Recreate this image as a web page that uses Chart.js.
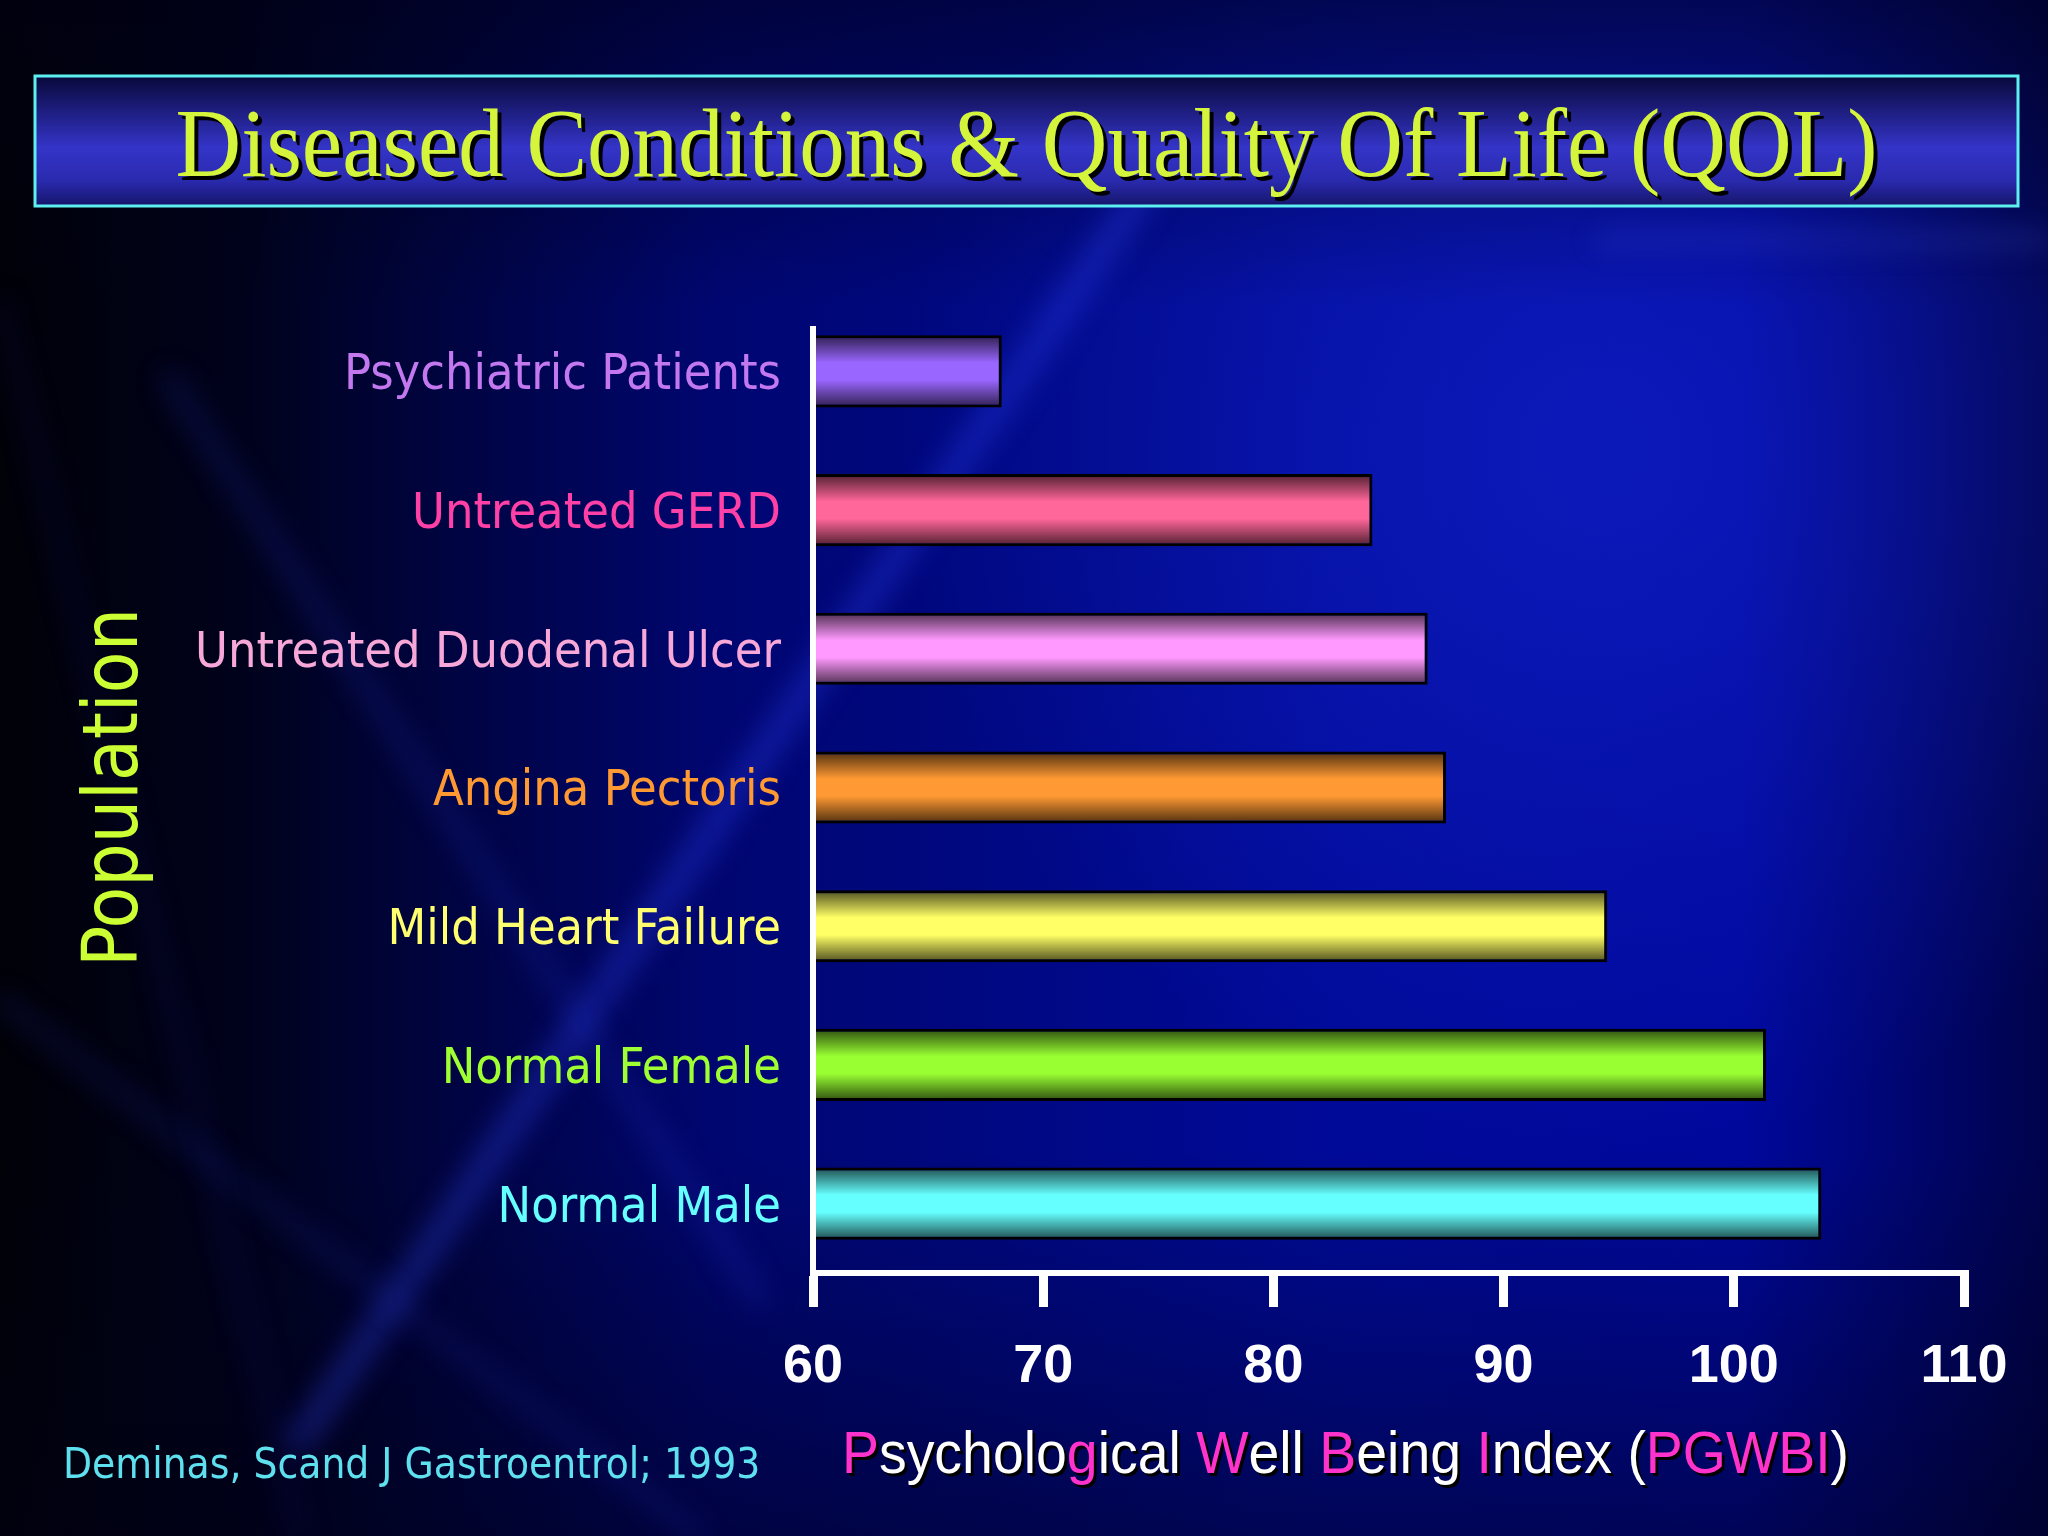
<!DOCTYPE html>
<html>
<head>
<meta charset="utf-8">
<title>Diseased Conditions &amp; Quality Of Life (QOL)</title>
<script src="https://cdn.jsdelivr.net/npm/chart.js@4.4.0/dist/chart.umd.min.js"></script>
<style>
  html, body { margin: 0; padding: 0; background: #000030; overflow: hidden; }
  #wrap { width: 2048px; height: 1536px; }
</style>
</head>
<body>
<div id="wrap"><canvas id="qol" width="2048" height="1536"></canvas></div>
<script>
// data
const populations = ['Psychiatric Patients', 'Untreated GERD', 'Untreated Duodenal Ulcer', 'Angina Pectoris', 'Mild Heart Failure', 'Normal Female', 'Normal Male'];
const pgwbiScores = [68.2, 84.3, 86.7, 87.5, 94.5, 101.4, 103.8];
const xTickValues = [60, 70, 80, 90, 100, 110];
const chartTitle = 'Diseased Conditions & Quality Of Life (QOL)';
const yAxisTitle = 'Population';
// x title, pieces flagged true are pink
const xTitleRuns = [['P', true], ['sycholo', false], ['g', true], ['ical ', false], ['W', true], ['ell ', false], ['B', true], ['eing ', false], ['I', true], ['ndex (', false], ['PGWBI', true], [')', false]];
const sourceNote = 'Deminas, Scand J Gastroentrol; 1993';

// styles
const barColors = ['#9966ff', '#ff6699', '#ff99ff', '#ff9933', '#ffff66', '#99ff33', '#66ffff'];
const labelColors = ['#c478f0', '#ff40a6', '#f8a8d8', '#ff9a33', '#ffff70', '#a0ff33', '#66ffff'];
const BAR_PCT = 0.52;
const sansCond = '"DejaVu Sans Condensed", "DejaVu Sans", sans-serif';
const narrow = '"Liberation Sans Narrow", "Arial Narrow", "Liberation Sans", sans-serif';

function shade(hex, f) {
  const n = parseInt(hex.slice(1), 16);
  const r = Math.round(((n >> 16) & 255) * f);
  const g = Math.round(((n >> 8) & 255) * f);
  const b = Math.round((n & 255) * f);
  return `rgb(${r},${g},${b})`;
}

// cylinder look: dark edges, bright middle
function barFill(c) {
  const chart = c.chart;
  const base = barColors[c.dataIndex];
  const y = chart.scales.y;
  if (!y || !chart.chartArea) return base;
  const mid = y.getPixelForValue(c.dataIndex);
  const half = (y.height / populations.length) * BAR_PCT / 2;
  const g = chart.ctx.createLinearGradient(0, mid - half, 0, mid + half);
  g.addColorStop(0, shade(base, 0.3));
  g.addColorStop(0.38, base);
  g.addColorStop(0.62, base);
  g.addColorStop(1, shade(base, 0.3));
  return g;
}

const backdrop = {
  id: 'backdrop',
  beforeDraw(chart) {
    const {ctx, width, height} = chart;
    ctx.save();
    let g = ctx.createLinearGradient(0, 0, width, 0);
    g.addColorStop(0, '#010108');
    g.addColorStop(0.12, '#00021c');
    g.addColorStop(0.35, '#000670');
    g.addColorStop(0.65, '#000a98');
    g.addColorStop(0.85, '#00089c');
    g.addColorStop(1, '#00034a');
    ctx.fillStyle = g;
    ctx.fillRect(0, 0, width, height);

    let r = ctx.createRadialGradient(1600, 450, 40, 1600, 450, 700);
    r.addColorStop(0, 'rgba(30,50,230,0.4)');
    r.addColorStop(1, 'rgba(30,50,230,0)');
    ctx.fillStyle = r;
    ctx.fillRect(0, 0, width, height);

    let v = ctx.createLinearGradient(0, 0, 0, height);
    v.addColorStop(0, 'rgba(0,0,20,0.55)');
    v.addColorStop(0.2, 'rgba(0,0,20,0)');
    v.addColorStop(0.75, 'rgba(0,0,20,0)');
    v.addColorStop(1, 'rgba(0,0,20,0.5)');
    ctx.fillStyle = v;
    ctx.fillRect(0, 0, width, height);

    // soft light streaks
    ctx.filter = 'blur(14px)';
    ctx.lineCap = 'round';
    const streaks = [
      [300, 1440, 1150, 180, 26, 'rgba(50,70,255,0.35)'],
      [170, 380, 760, 1300, 18, 'rgba(40,60,220,0.22)'],
      [0, 1000, 700, 1536, 14, 'rgba(40,60,220,0.2)'],
      [1600, 240, 2048, 240, 10, 'rgba(90,110,255,0.3)'],
      [0, 300, 300, 1536, 10, 'rgba(30,40,180,0.2)']
    ];
    streaks.forEach(s => {
      ctx.strokeStyle = s[5];
      ctx.lineWidth = s[4];
      ctx.beginPath();
      ctx.moveTo(s[0], s[1]);
      ctx.lineTo(s[2], s[3]);
      ctx.stroke();
    });
    ctx.filter = 'none';
    ctx.restore();
  }
};

const overlay = {
  id: 'overlay',
  afterDraw(chart) {
    const ctx = chart.ctx;
    const area = chart.chartArea;
    ctx.save();

    // vertical axis line (starts a little below the plot top, as on the slide)
    ctx.strokeStyle = '#ffffff';
    ctx.lineWidth = 6;
    ctx.beginPath();
    ctx.moveTo(area.left, area.top + 24);
    ctx.lineTo(area.left, area.bottom);
    ctx.stroke();

    // title banner
    const bx = 35, by = 76, bw = 1983, bh = 130;
    const bg = ctx.createLinearGradient(0, by, 0, by + bh);
    bg.addColorStop(0, '#08083a');
    bg.addColorStop(0.55, '#3434c8');
    bg.addColorStop(0.8, '#2a2ab0');
    bg.addColorStop(1, '#15156a');
    ctx.fillStyle = bg;
    ctx.fillRect(bx, by, bw, bh);
    ctx.strokeStyle = '#5cf0f0';
    ctx.lineWidth = 3;
    ctx.strokeRect(bx, by, bw, bh);

    ctx.font = '98px "Liberation Serif", "Times New Roman", serif';
    const tw = ctx.measureText(chartTitle).width;
    const sx = 1702 / tw;
    ctx.save();
    ctx.translate(bx + bw / 2, 176);
    ctx.scale(sx, 1);
    ctx.textAlign = 'center';
    ctx.textBaseline = 'alphabetic';
    ctx.fillStyle = '#000';
    ctx.fillText(chartTitle, 4 / sx, 4);
    ctx.fillStyle = '#d4f53c';
    ctx.fillText(chartTitle, 0, 0);
    ctx.restore();

    // x axis title with pink initials
    ctx.font = '60px ' + narrow;
    const full = xTitleRuns.map(r => r[0]).join('');
    const fw = ctx.measureText(full).width;
    const xs = Math.min(1, 1006 / fw);
    ctx.save();
    ctx.translate(area.left + 29, 1473);
    ctx.scale(xs, 1);
    ctx.textAlign = 'left';
    ctx.textBaseline = 'alphabetic';
    let x = 0;
    xTitleRuns.forEach(([txt, pink]) => {
      ctx.fillStyle = '#000';
      ctx.fillText(txt, x + 3, 3);
      ctx.fillStyle = pink ? '#ff33cc' : '#ffffff';
      ctx.fillText(txt, x, 0);
      x += ctx.measureText(txt).width;
    });
    ctx.restore();

    // source
    ctx.font = '42px ' + sansCond;
    ctx.fillStyle = '#5ee0ee';
    ctx.textAlign = 'left';
    ctx.textBaseline = 'alphabetic';
    ctx.fillText(sourceNote, 63, 1478);

    ctx.restore();
  }
};

new Chart(document.getElementById('qol'), {
  type: 'bar',
  data: {
    labels: populations,
    datasets: [{
      data: pgwbiScores,
      backgroundColor: barFill,
      borderColor: '#000',
      borderWidth: 3,
      borderSkipped: false,
      barPercentage: BAR_PCT,
      categoryPercentage: 1
    }]
  },
  options: {
    indexAxis: 'y',
    responsive: false,
    animation: false,
    devicePixelRatio: 1,
    layout: { padding: { top: 302, right: 84, bottom: 0, left: 0 } },
    plugins: {
      legend: { display: false },
      tooltip: { enabled: false },
      title: { display: false }
    },
    scales: {
      x: {
        type: 'linear',
        min: 60,
        max: 110,
        afterBuildTicks: s => { s.ticks = xTickValues.map(v => ({ value: v })); },
        afterFit: s => { s.height = 263; },
        border: { display: true, color: '#ffffff', width: 6 },
        grid: { display: true, drawOnChartArea: false, drawTicks: true, tickLength: 34, lineWidth: 9, color: '#ffffff' },
        ticks: { color: '#ffffff', font: { family: narrow, size: 54, weight: 'bold' }, padding: 28 }
      },
      y: {
        type: 'category',
        afterFit: s => { s.width = 813; },
        border: { display: false },
        grid: { display: false },
        ticks: {
          autoSkip: false,
          color: c => labelColors[c.index],
          font: { family: sansCond, size: 50 },
          padding: 24,
          labelOffset: 5
        },
        title: {
          display: true,
          text: yAxisTitle,
          color: '#ccff33',
          font: { family: sansCond, size: 76 },
          padding: { top: 72, bottom: 0 }
        }
      }
    }
  },
  plugins: [backdrop, overlay]
});
</script>
</body>
</html>
